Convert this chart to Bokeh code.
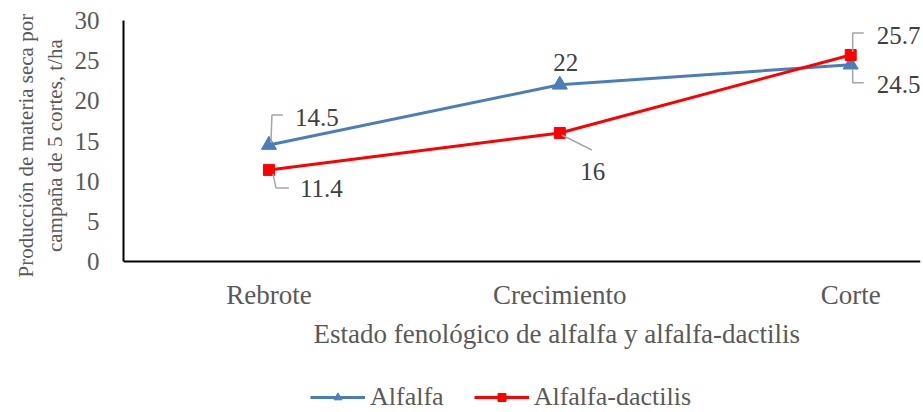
from bokeh.plotting import figure
from bokeh.models import Legend, LegendItem, FixedTicker, Label, ColumnDataSource
from bokeh.core.properties import value
from bokeh.embed import file_html
from bokeh.resources import INLINE

categories = ["Rebrote", "Crecimiento", "Corte"]
alfalfa = [14.5, 22.0, 24.5]
alfalfa_dactilis = [11.4, 16.0, 25.7]
y_ticks = [0, 5, 10, 15, 20, 25, 30]
y_title = ["Producción de materia seca por", "campaña de 5 cortes, t/ha"]

FONT = "Liberation Serif"
BLUE = "#4A7EBB"
RED = "#FF0000"

X0, X1 = -0.5, 2.24
FW = 797
FH = 392            # frame reaches the bottom of the window
PLOT_H = 241        # pixel height of the 0..30 value band
sy = PLOT_H / 30.0
Y0 = -(FH - PLOT_H) / sy
sx = FW / (X1 - X0)

p = figure(frame_width=FW, frame_height=FH, x_range=(X0, X1), y_range=(Y0, 30),
           output_backend="svg", toolbar_location=None,
           min_border_left=123, min_border_right=3, min_border_top=20,
           min_border_bottom=0)
p.outline_line_color = None
p.xgrid.grid_line_color = None
p.ygrid.grid_line_color = None
p.background_fill_color = "white"
p.border_fill_color = "white"

xs = list(range(len(categories)))

for ax in (p.xaxis[0], p.yaxis[0]):
    ax.axis_line_color = "black"
    ax.axis_line_width = 2
    ax.major_tick_line_color = None
    ax.minor_tick_line_color = None
    ax.major_label_text_font = FONT
    ax.major_label_text_font_size = "25px"
    ax.major_label_text_color = "#595959"

p.xaxis.ticker = FixedTicker(ticks=xs)
p.xaxis.fixed_location = 0
p.xaxis.major_label_overrides = {i: c for i, c in enumerate(categories)}
p.xaxis.major_label_standoff = 12
p.xaxis.major_label_text_font_size = "27px"
p.yaxis.ticker = FixedTicker(ticks=y_ticks)
p.yaxis.bounds = (0, 30)
p.yaxis.major_label_standoff = 18
# leading no-break spaces shift the centred title up to the 0..30 band
pad = "\u00a0" * 27
p.yaxis.axis_label = "\n".join(pad + s for s in y_title)
p.yaxis.axis_label_text_font = FONT
p.yaxis.axis_label_text_font_size = "21px"
p.yaxis.axis_label_text_font_style = "normal"
p.yaxis.axis_label_text_color = "#595959"
p.yaxis.axis_label_standoff = 5

p.add_layout(Label(x=1, y=FH - 313, x_units="data", y_units="screen", x_offset=-3,
                   text="Estado fenológico de alfalfa y alfalfa-dactilis",
                   text_align="center", text_baseline="middle",
                   text_font=FONT, text_font_size="27px", text_color="#595959"))

l1 = p.line(xs, alfalfa, line_color=BLUE, line_width=3)
m1 = p.scatter(xs, alfalfa, marker="triangle", size=15, fill_color=BLUE, line_color=BLUE)
l2 = p.line(xs, alfalfa_dactilis, line_color=RED, line_width=3)
m2 = p.scatter(xs, alfalfa_dactilis, marker="square", size=11, fill_color=RED, line_color=RED)

def leader(x, y, pts):
    return [x + dx / sx for dx, dy in pts], [y - dy / sy for dx, dy in pts]

label_specs = [
    (alfalfa, 0, 26, -28, "left", [(2, -2), (3, -30), (14, -30)]),
    (alfalfa_dactilis, 0, 31, 19, "left", [(4, 4), (7, 18), (20, 18)]),
    (alfalfa, 1, 6, -22, "center", None),
    (alfalfa_dactilis, 1, 33, 39, "center", [(2, 2), (32, 17)]),
    (alfalfa_dactilis, 2, 26, -20, "left", [(2, -3), (2, -22), (13, -22)]),
    (alfalfa, 2, 26, 20, "left", [(2, 4), (2, 18), (13, 18)]),
]

lx, ly = [], []
src = dict(x=[], y=[], t=[], dx=[], dy=[], al=[])
for vals, i, dx, dy, al, pts in label_specs:
    v = vals[i]
    src["x"].append(xs[i]); src["y"].append(v); src["t"].append("%g" % v)
    src["dx"].append(dx); src["dy"].append(dy); src["al"].append(al)
    if pts:
        a, b = leader(xs[i], v, pts)
        lx.append(a); ly.append(b)

p.multi_line(lx, ly, line_color="#A6A6A6", line_width=1.5)
p.text(x="x", y="y", text="t", x_offset="dx", y_offset="dy", text_align="al",
       text_baseline="middle", text_font=value(FONT), text_font_size="25px",
       text_color="#404040", source=ColumnDataSource(src))

legend = Legend(items=[LegendItem(label="Alfalfa", renderers=[l1, m1]),
                       LegendItem(label="Alfalfa-dactilis", renderers=[l2, m2])],
                orientation="horizontal", location=(187, 0),
                border_line_color=None, background_fill_alpha=0,
                label_text_font=FONT, label_text_font_size="26px",
                label_text_color="#595959", glyph_width=55, label_standoff=5,
                spacing=30, padding=0, margin=0)
p.add_layout(legend)

open("out.html", "w").write(file_html(p, INLINE))
